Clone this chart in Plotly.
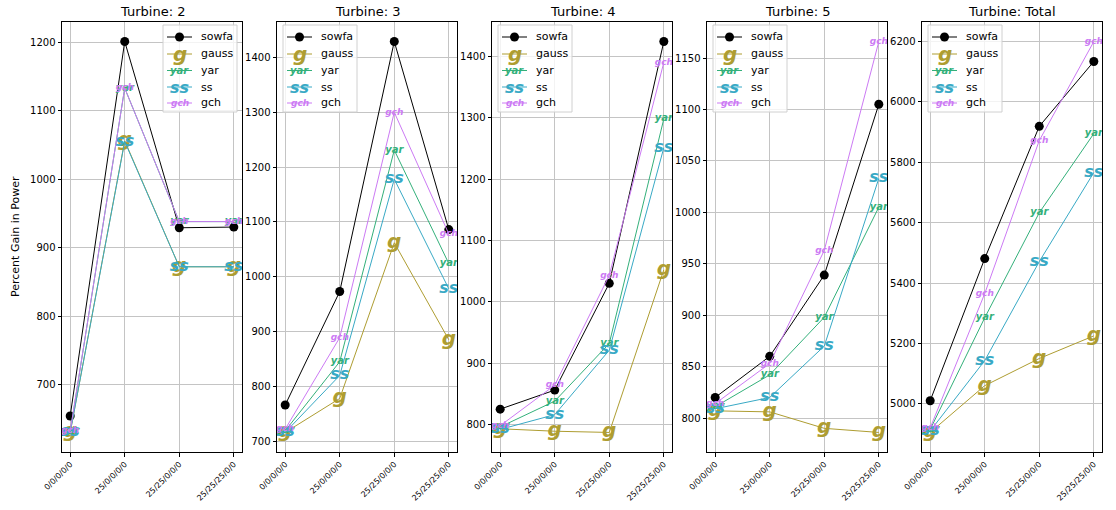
import plotly.graph_objects as go

# ---------------- data ----------------
categories = ["0/0/0/0/0", "25/0/0/0/0", "25/25/0/0/0", "25/25/25/0/0"]
turbine_names = ["2", "3", "4", "5", "Total"]
series_names = ["sowfa", "gauss", "yar", "ss", "gch"]
glyphs = {"gauss": "g", "yar": "yar", "ss": "ss", "gch": "gch"}

sowfa_2 = [654, 1201, 929, 930]
gauss_2 = [630, 1056, 872, 872]
yar_2 = [631, 1133, 938, 938]
ss_2 = [630, 1055, 872, 872]
gch_2 = [632, 1133, 938, 938]

sowfa_3 = [766, 973, 1429, 1086]
gauss_3 = [716, 778, 1062, 885]
yar_3 = [719, 845, 1231, 1024]
ss_3 = [716, 820, 1178, 978]
gch_3 = [722, 889, 1300, 1078]

sowfa_4 = [825, 856, 1030, 1424]
gauss_4 = [793, 789, 787, 1052]
yar_4 = [796, 838, 932, 1298]
ss_4 = [792, 816, 921, 1251]
gch_4 = [798, 864, 1043, 1390]

sowfa_5 = [820, 860, 939, 1105]
gauss_5 = [807, 806, 790, 786]
yar_5 = [811, 842, 898, 1005]
ss_5 = [809, 820, 870, 1033]
gch_5 = [814, 853, 963, 1166]

sowfa_total = [5010, 5481, 5919, 6134]
gauss_total = [4905, 5060, 5150, 5225]
yar_total = [4915, 5285, 5633, 5895]
ss_total = [4910, 5143, 5471, 5766]
gch_total = [4920, 5365, 5872, 6200]

panels = [
    [sowfa_2, gauss_2, yar_2, ss_2, gch_2],
    [sowfa_3, gauss_3, yar_3, ss_3, gch_3],
    [sowfa_4, gauss_4, yar_4, ss_4, gch_4],
    [sowfa_5, gauss_5, yar_5, ss_5, gch_5],
    [sowfa_total, gauss_total, yar_total, ss_total, gch_total],
]
y_dticks = [100, 100, 100, 50, 200]

# ---------------- style ----------------
W, H = 1116, 510
FONT = "DejaVu Sans"
colors = {"sowfa": "black", "gauss": "#ae9d31", "yar": "#33b07a",
          "ss": "#38a9c5", "gch": "#cc7af4"}
glyph_size = {"gauss": 20, "yar": 10, "ss": 16, "gch": 9}

PLOT_TOP, PLOT_BOTTOM = 22, 452
PANEL_W, PANEL_STEP, FIRST_LEFT = 180, 215, 62


def px(x):
    return x / W


def py(y):
    return 1 - y / H


fig = go.Figure()
xs = list(range(len(categories)))

annotations = []
shapes = []

for i, (tname, data) in enumerate(zip(turbine_names, panels)):
    n = i + 1
    xa = "x" if n == 1 else f"x{n}"
    ya = "y" if n == 1 else f"y{n}"
    left = FIRST_LEFT + i * PANEL_STEP
    right = left + PANEL_W

    for sname, vals in zip(series_names, data):
        if sname == "sowfa":
            fig.add_trace(go.Scatter(
                x=xs, y=vals, mode="lines+markers", name=sname,
                line=dict(color="black", width=1),
                marker=dict(color="black", size=9),
                xaxis=xa, yaxis=ya, showlegend=False))
        else:
            fig.add_trace(go.Scatter(
                x=xs, y=vals, mode="lines+text", name=sname,
                text=[glyphs[sname]] * len(vals),
                textposition="middle center",
                textfont=dict(family=FONT, size=glyph_size[sname],
                              color=colors[sname], style="italic",
                              weight="bold"),
                line=dict(color=colors[sname], width=1),
                xaxis=xa, yaxis=ya, showlegend=False))

    allv = [v for s in data for v in s]
    lo, hi = min(allv), max(allv)
    pad = (hi - lo) * 0.05
    axis_common = dict(showline=True, linecolor="black", linewidth=1,
                       mirror=True, ticks="outside", ticklen=3.5,
                       tickcolor="black", showgrid=True, gridcolor="#c4c4c4",
                       gridwidth=1, zeroline=False, automargin=False)
    fig.update_layout(**{
        ("xaxis" if n == 1 else f"xaxis{n}"): dict(
            domain=[px(left), px(right)], anchor=ya,
            range=[-0.15, len(categories) - 1 + 0.15],
            tickmode="array", tickvals=xs, ticktext=categories,
            tickangle=-45, tickfont=dict(family=FONT, size=8, color="black"),
            **axis_common),
        ("yaxis" if n == 1 else f"yaxis{n}"): dict(
            domain=[py(PLOT_BOTTOM), py(PLOT_TOP)], anchor=xa,
            range=[lo - pad, hi + pad], dtick=y_dticks[i], tick0=0,
            tickfont=dict(family=FONT, size=10, color="black"),
            **axis_common),
    })

    # title
    annotations.append(dict(
        x=px((left + right) / 2), y=py(11), xref="paper", yref="paper",
        text=f"Turbine: {tname}", showarrow=False,
        font=dict(family=FONT, size=13, color="black"),
        xanchor="center", yanchor="middle"))

    # manual legend
    box_w = 74
    if i == 0:
        bx0 = right - 5 - box_w
    else:
        bx0 = left + 6
    bx1 = bx0 + box_w
    by0, by1 = 25, 112
    shapes.append(dict(type="rect", xref="paper", yref="paper",
                       x0=px(bx0), x1=px(bx1), y0=py(by1), y1=py(by0),
                       line=dict(color="#d0d0d0", width=1),
                       fillcolor="rgba(255,255,255,0.8)", layer="above"))
    row_y = [37, 54, 70.5, 87, 103]
    for sname, ry in zip(series_names, row_y):
        shapes.append(dict(type="line", xref="paper", yref="paper",
                           x0=px(bx0 + 4), x1=px(bx0 + 29),
                           y0=py(ry), y1=py(ry),
                           line=dict(color=colors[sname], width=1),
                           layer="above"))
        mx = bx0 + 16.5
        if sname == "sowfa":
            shapes.append(dict(type="circle", xref="paper", yref="paper",
                               x0=px(mx - 4.5), x1=px(mx + 4.5),
                               y0=py(ry + 4.5), y1=py(ry - 4.5),
                               fillcolor="black", line=dict(width=0),
                               layer="above"))
        else:
            annotations.append(dict(
                x=px(mx), y=py(ry), xref="paper", yref="paper",
                text=glyphs[sname], showarrow=False,
                font=dict(family=FONT, size=glyph_size[sname],
                          color=colors[sname], style="italic",
                          weight="bold"),
                xanchor="center", yanchor="middle"))
        annotations.append(dict(
            x=px(bx0 + 36), y=py(ry), xref="paper", yref="paper",
            text=sname, showarrow=False,
            font=dict(family=FONT, size=11, color="black"),
            xanchor="left", yanchor="middle"))

# y-axis label
annotations.append(dict(
    x=px(15), y=py((PLOT_TOP + PLOT_BOTTOM) / 2), xref="paper", yref="paper",
    text="Percent Gain in Power", showarrow=False, textangle=-90,
    font=dict(family=FONT, size=11, color="black"),
    xanchor="center", yanchor="middle"))

fig.update_layout(
    width=W, height=H,
    margin=dict(l=0, r=0, t=0, b=0),
    paper_bgcolor="white", plot_bgcolor="white",
    showlegend=False,
    annotations=annotations, shapes=shapes,
    font=dict(family=FONT),
)

fig.write_html(
    "out.html",
    config={"displayModeBar": False},
    post_script="document.body.style.margin='0';document.body.style.padding='0';",
)
